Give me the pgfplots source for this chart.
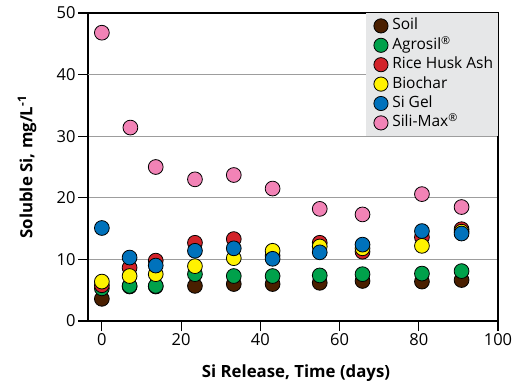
\documentclass[border=0pt]{standalone}
\usepackage{fontspec}
\setmainfont{Open Sans}
\usepackage{pgfplots}
\pgfplotsset{compat=1.18}
\definecolor{csoil}{HTML}{4A1F00}
\definecolor{cagro}{HTML}{00A14B}
\definecolor{crha}{HTML}{D2232A}
\definecolor{cbio}{HTML}{FFF200}
\definecolor{cgel}{HTML}{0072BC}
\definecolor{cmax}{HTML}{F283B6}
\definecolor{legfill}{HTML}{E6E7E8}
\definecolor{gridc}{HTML}{9D9D9D}
\pgfplotsset{dot/.style={only marks, mark=*, mark size=7.4bp, mark options={draw=black, fill=#1, line width=0.8bp}}}
\begin{document}
\begin{tikzpicture}
\begin{axis}[
  scale only axis,
  width=410bp, height=308bp,
  xmin=-3.5, xmax=100, ymin=0, ymax=50,
  xtick={0,20,...,100}, ytick={0,10,...,50},
  tick align=outside, tick pos=left,
  major tick length=10bp,
  axis line style={line width=1.1bp},
  tick style={line width=1.1bp, black},
  ymajorgrids, grid style={gridc, line width=1.2bp},
  /pgf/number format/assume math mode=true,
  ticklabel style={font=\fontsize{16.5bp}{18bp}\selectfont},
  xticklabel style={yshift=1bp},
  yticklabel style={xshift=1bp},
  xlabel={Si Release, Time (days)},
  ylabel={Soluble Si, mg/L\textsuperscript{-1}},
  every axis x label/.style={at={(axis description cs:0.5,0)}, anchor=center, yshift=-52bp, xshift=3bp, font=\fontsize{16.8bp}{18bp}\selectfont\bfseries},
  every axis y label/.style={at={(axis description cs:-0.1488,0.5)}, anchor=center, rotate=90, font=\fontsize{16.8bp}{18bp}\selectfont\bfseries},
  legend image code/.code={\path (-4bp,0bp); \draw[mark repeat=2,mark phase=2,#1, mark size=7.1bp] plot coordinates {(0bp,0bp)(7bp,0bp)(14bp,0bp)};},
  legend style={at={(1,1)}, anchor=north east, fill=legfill, draw=none,
    font=\fontsize{15.5bp}{18bp}\selectfont, row sep=0bp,
    inner xsep=3.5bp, inner ysep=3bp,
    nodes={text height=12bp, text depth=4bp, inner ysep=1.7bp, inner xsep=1.2bp},
    /tikz/every odd column/.append style={column sep=3bp},
    /tikz/every even column/.append style={column sep=0bp}},
  legend cell align=left,
  after end axis/.code={\draw[gridc, line width=1.2bp] (axis cs:-3.5,40) -- (axis cs:100,40);},
]
\addplot[dot=csoil] coordinates {(0,3.6)(7,5.6)(13.6,5.6)(23.5,5.7)(33.3,6.0)(43.1,6.0)(55,6.2)(65.8,6.5)(80.8,6.4)(90.8,6.65)};
\addlegendentry{Soil}
\addplot[dot=cagro] coordinates {(0,5.3)(7,5.7)(13.6,5.7)(23.5,7.6)(33.3,7.3)(43.1,7.3)(55,7.4)(65.8,7.6)(80.8,7.7)(90.8,8.1)};
\addlegendentry{Agrosil\textsuperscript{®}}
\addplot[dot=crha] coordinates {(0,5.8)(7,8.65)(13.6,9.8)(23.5,12.7)(33.3,13.3)(43.1,10.6)(55,12.7)(65.8,11.25)(80.8,13.6)(90.8,14.9)};
\addlegendentry{Rice Husk Ash}
\addplot[dot=cbio] coordinates {(0,6.4)(7,7.3)(13.6,7.6)(23.5,8.9)(33.3,10.2)(43.1,11.4)(55,12.1)(65.8,11.8)(80.8,12.2)(90.8,14.5)};
\addlegendentry{Biochar}
\addplot[dot=cgel] coordinates {(0,15.1)(7,10.3)(13.6,9.0)(23.5,11.4)(33.3,11.8)(43.1,10.1)(55,11.15)(65.8,12.4)(80.8,14.6)(90.8,14.2)};
\addlegendentry{Si Gel}
\addplot[dot=cmax] coordinates {(0,46.8)(7.2,31.4)(13.6,25.0)(23.5,23.0)(33.3,23.7)(43.1,21.5)(55,18.2)(65.8,17.3)(80.8,20.6)(90.8,18.5)};
\addlegendentry{Sili-Max\textsuperscript{®}}
\end{axis}
\path[use as bounding box] ([shift={(-88bp,-64bp)}]current axis.south west) rectangle ([shift={(29bp,13bp)}]current axis.north east);
\end{tikzpicture}
\end{document}
